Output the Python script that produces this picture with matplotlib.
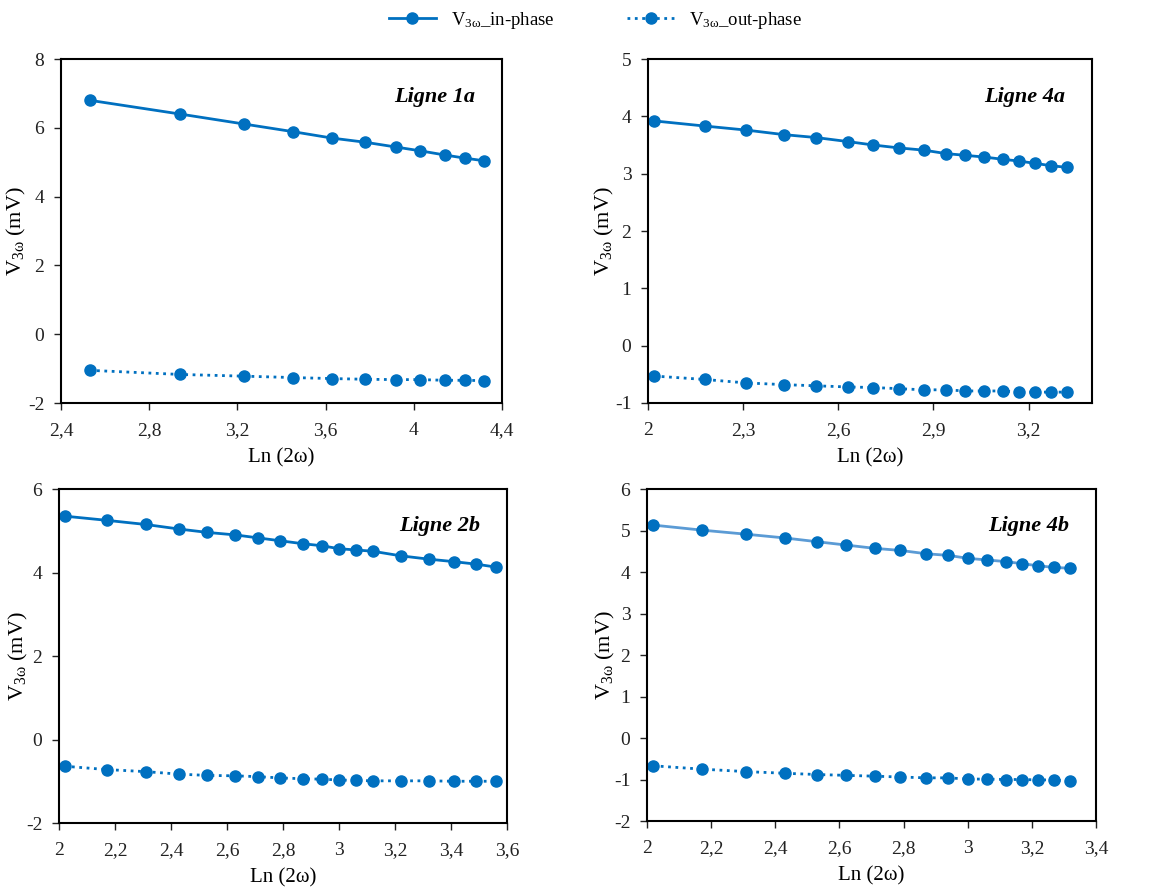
import matplotlib
matplotlib.use("Agg")
import matplotlib.pyplot as plt
import numpy as np
from matplotlib.ticker import FuncFormatter, FixedLocator

plt.rcParams['font.family'] = ['Liberation Serif', 'DejaVu Serif']
plt.rcParams['mathtext.fontset'] = 'custom'
plt.rcParams['mathtext.rm'] = 'Liberation Serif'
plt.rcParams['mathtext.it'] = 'Liberation Serif:italic'

# ---- Data ----
x_1a = [2.53, 2.94, 3.23, 3.45, 3.63, 3.78, 3.92, 4.03, 4.14, 4.23, 4.32]
in_1a = [6.80, 6.40, 6.11, 5.89, 5.70, 5.58, 5.44, 5.33, 5.21, 5.12, 5.04]
out_1a = [-1.05, -1.17, -1.22, -1.26, -1.29, -1.31, -1.32, -1.32, -1.34, -1.34, -1.35]

x_4a = [2.02, 2.18, 2.31, 2.43, 2.53, 2.63, 2.71, 2.79, 2.87, 2.94, 3.00,
        3.06, 3.12, 3.17, 3.22, 3.27, 3.32]
in_4a = [3.92, 3.83, 3.76, 3.68, 3.63, 3.56, 3.50, 3.45, 3.41, 3.35, 3.32,
         3.29, 3.25, 3.22, 3.18, 3.14, 3.11]
out_4a = [-0.53, -0.59, -0.65, -0.68, -0.70, -0.72, -0.73, -0.75, -0.77, -0.77,
          -0.79, -0.79, -0.79, -0.81, -0.81, -0.81, -0.81]

x_2b = [2.02, 2.17, 2.31, 2.43, 2.53, 2.63, 2.71, 2.79, 2.87, 2.94, 3.00,
        3.06, 3.12, 3.22, 3.32, 3.41, 3.49, 3.56]
in_2b = [5.35, 5.25, 5.15, 5.04, 4.96, 4.90, 4.83, 4.76, 4.69, 4.64, 4.57,
         4.54, 4.51, 4.40, 4.32, 4.26, 4.20, 4.13]
out_2b = [-0.64, -0.72, -0.77, -0.83, -0.86, -0.87, -0.89, -0.92, -0.94, -0.95,
          -0.97, -0.98, -0.99, -0.99, -0.99, -1.00, -1.00, -1.00]

x_4b = [2.02, 2.17, 2.31, 2.43, 2.53, 2.62, 2.71, 2.79, 2.87, 2.94, 3.00,
        3.06, 3.12, 3.17, 3.22, 3.27, 3.32]
in_4b = [5.13, 5.01, 4.91, 4.82, 4.73, 4.65, 4.57, 4.52, 4.44, 4.40, 4.33,
         4.29, 4.25, 4.20, 4.15, 4.11, 4.09]
out_4b = [-0.67, -0.75, -0.81, -0.85, -0.88, -0.90, -0.92, -0.94, -0.96, -0.96,
          -0.99, -0.99, -1.00, -1.00, -1.01, -1.01, -1.04]

titles = ["Ligne 1a", "Ligne 4a", "Ligne 2b", "Ligne 4b"]
legend_labels = ["V$_{\\mathrm{3ω}}$_in-phase", "V$_{\\mathrm{3ω}}$_out-phase"]

W, H = 1161, 888
fig = plt.figure(figsize=(W / 100, H / 100), dpi=100)

def rect(l, t, r, b):
    return [l / W, 1 - b / H, (r - l) / W, (b - t) / H]

panels = [
    dict(box=(61, 59, 502, 403), ylab_x=28, x=x_1a, yi=in_1a, yo=out_1a, xlim=(2.4, 4.4), xstep=0.4,
         ylim=(-2, 8), ystep=2, title=titles[0], lc='#0070C0'),
    dict(box=(648, 59, 1092, 403), ylab_x=616, x=x_4a, yi=in_4a, yo=out_4a, xlim=(2.0, 3.4), xstep=0.3,
         ylim=(-1, 5), ystep=1, title=titles[1], lc='#0070C0'),
    dict(box=(59, 489, 507, 823), ylab_x=30, x=x_2b, yi=in_2b, yo=out_2b, xlim=(2.0, 3.6), xstep=0.2,
         ylim=(-2, 6), ystep=2, title=titles[2], lc='#0070C0'),
    dict(box=(647, 489, 1096, 821), ylab_x=617, x=x_4b, yi=in_4b, yo=out_4b, xlim=(2.0, 3.4), xstep=0.2,
         ylim=(-2, 6), ystep=1, title=titles[3], lc='#5B9BD5'),
]

def fmt(v, pos):
    s = ('%.1f' % v)
    if s.endswith('.0'):
        s = s[:-2]
    if s == '-0':
        s = '0'
    return s.replace('.', ',')

mc = '#0070C0'
handles = None
for p in panels:
    l, t, r, b = p['box']
    ax = fig.add_axes(rect(l, t, r, b))
    h1, = ax.plot(p['x'], p['yi'], '-', color=p['lc'], lw=2.0, marker='o', ms=8,
                  mfc=mc, mec=mc, label=legend_labels[0])
    h2, = ax.plot(p['x'], p['yo'], ':', color=mc, lw=2.0, marker='o', ms=8,
                  mfc=mc, mec=mc, label=legend_labels[1])
    if handles is None:
        handles = [h1, h2]
    ax.set_xlim(*p['xlim'])
    ax.set_ylim(*p['ylim'])
    xt = np.arange(p['xlim'][0], p['xlim'][1] + 1e-9, p['xstep'])
    yt = np.arange(p['ylim'][0], p['ylim'][1] + 1e-9, p['ystep'])
    ax.xaxis.set_major_locator(FixedLocator(xt))
    ax.yaxis.set_major_locator(FixedLocator(yt))
    ax.xaxis.set_major_formatter(FuncFormatter(fmt))
    ax.yaxis.set_major_formatter(FuncFormatter(fmt))
    ax.tick_params(direction='out', length=5, width=1, labelsize=14, colors='#222222')
    ax.tick_params(axis='x', pad=9)
    ax.tick_params(axis='y', pad=7)
    for s in ax.spines.values():
        s.set_linewidth(1.5)
        s.set_color('black')
    ax.set_xlabel('Ln (2ω)', fontsize=15, labelpad=6)
    ax.set_ylabel('V$_{\\mathrm{3ω}}$ (mV)', fontsize=16)
    ax.yaxis.set_label_coords((p['ylab_x'] - l) / (r - l), 0.5)
    ax.text(0.94, 0.89, p['title'], transform=ax.transAxes, ha='right', va='center',
            fontsize=16, fontweight='bold', fontstyle='italic')

fig.legend(handles, legend_labels, loc='upper center', bbox_to_anchor=(0.513, 1.008),
           ncol=2, frameon=False, fontsize=13.5, columnspacing=3.9, handlelength=2.5,
           handletextpad=0.8)

fig.savefig('out.png', dpi=100)
